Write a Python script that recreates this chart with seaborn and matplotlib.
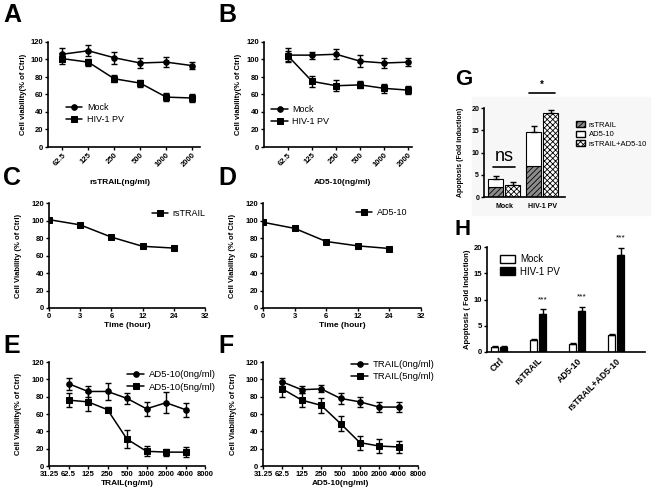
import numpy as np
import pandas as pd
import matplotlib
matplotlib.use("Agg")
import matplotlib.pyplot as plt
from matplotlib.patches import Patch, Rectangle
import seaborn as sns

# ---- data ----
# A / B: viability vs concentration (categorical axis)
conc_labels = ['62.5', '125', '250', '500', '1000', '2000']
a_mock = [106, 110, 102, 96, 97, 93]
a_mock_err = [7, 6, 7, 6, 6, 4]
a_hiv = [101, 97, 78, 73, 57, 56]
a_hiv_err = [6, 4, 4, 4, 5, 5]
b_mock = [105, 105, 106, 98, 96, 97]
b_mock_err = [8, 4, 6, 7, 6, 5]
b_hiv = [104, 75, 70, 71, 67, 65]
b_hiv_err = [6, 6, 6, 4, 5, 5]

# C / D: viability over time
time_ticks = ['0', '3', '6', '12', '24', '32']
times = ['0', '3', '6', '12', '24']
c_rstrail = [101, 95, 81, 70.5, 68.5]
d_ad510 = [98, 91, 76, 71, 68]

# E / F: viability vs dose (log2 axis)
dose_ticks = [31.25, 62.5, 125, 250, 500, 1000, 2000, 4000, 8000]
doses = [62.5, 125, 250, 500, 1000, 2000, 4000]
e_0 = [95, 86, 86, 78, 66, 73, 65]
e_0_err = [7, 6, 10, 6, 8, 12, 8]
e_5 = [76, 74, 65, 31, 17, 16, 16]
e_5_err = [8, 11, 3, 10, 6, 4, 6]
f_0 = [97, 88, 89, 78, 74, 68, 68]
f_0_err = [5, 4, 4, 6, 6, 6, 6]
f_5 = [89, 76, 70, 49, 27, 23, 22]
f_5_err = [9, 8, 9, 9, 8, 8, 7]

# G: stacked apoptosis bars
g_groups = ['Mock', 'HIV-1 PV']
g_rstrail = [2.2, 7.0]
g_ad510 = [1.8, 7.7]  # stacked on rsTRAIL
g_ad510_err = [0.8, 1.2]
g_combo = [2.7, 18.8]
g_combo_err = [0.6, 0.7]

# H: grouped apoptosis bars
h_cats = ['Ctrl', 'rsTRAIL', 'AD5-10', 'rsTRAIL+AD5-10']
h_mock = [1.0, 2.3, 1.5, 3.3]
h_mock_err = [0.2, 0.2, 0.2, 0.2]
h_hiv = [0.9, 7.3, 7.8, 18.4]
h_hiv_err = [0.2, 0.8, 0.8, 1.5]

sns.set_style('ticks')
plt.rcParams['font.family'] = ['Liberation Sans', 'DejaVu Sans']
plt.rcParams['font.weight'] = 'bold'
plt.rcParams['text.color'] = 'black'
plt.rcParams['axes.labelcolor'] = 'black'
plt.rcParams['hatch.linewidth'] = 0.6

W, H = 662, 494
fig = plt.figure(figsize=(W / 100, H / 100), dpi=100)


def add_ax(x0, y0, x1, y1):
    # pixel box -> figure coords
    return fig.add_axes([x0 / W, 1 - y1 / H, (x1 - x0) / W, (y1 - y0) / H])


def series(ax, x, y, err, marker, label):
    sns.lineplot(x=x, y=y, ax=ax, color='black', marker=marker, markersize=4,
                 markeredgecolor='black', linewidth=1.1, label=label, legend=False)
    if err is not None:
        ax.errorbar(x, y, yerr=err, fmt='none', ecolor='black', elinewidth=1,
                    capsize=2.5, capthick=1)


def style(ax, ylabel, yl_x):
    sns.despine(ax=ax)
    for s in ['left', 'bottom']:
        ax.spines[s].set_linewidth(1.2)
        ax.spines[s].set_color('black')
    ax.tick_params(width=1, length=2.5, labelsize=5.5, pad=1, colors='black')
    ax.set_ylabel(ylabel, fontsize=5.5, fontweight='bold')
    ax.yaxis.set_label_coords(yl_x, 0.5)


def legend(ax, x, y, fs=6.5):
    ax.legend(loc='upper left', bbox_to_anchor=(x, y), frameon=False,
              prop={'size': fs, 'weight': 'normal'}, handlelength=1.8,
              handletextpad=0.5, labelspacing=0.35, borderpad=0, borderaxespad=0)


# ---- A ----
pos = list(range(len(conc_labels)))
ax = add_ax(48, 42, 200, 147)
series(ax, pos, a_mock, a_mock_err, 'o', 'Mock')
series(ax, pos, a_hiv, a_hiv_err, 's', 'HIV-1 PV')
ax.set_ylim(0, 120)
ax.set_yticks(range(0, 121, 20))
ax.set_xlim(-0.55, 5.3)
ax.set_xticks(pos, conc_labels, rotation=45, ha='right', rotation_mode='anchor')
style(ax, 'Cell viability(% of Ctrl)', -0.14)
ax.set_xlabel('rsTRAIL(ng/ml)', fontsize=6, fontweight='bold')
ax.xaxis.set_label_coords(0.47, -0.30)
legend(ax, 0.12, 0.42)

# ---- B ----
ax = add_ax(264, 42, 412, 147)
series(ax, pos, b_mock, b_mock_err, 'o', 'Mock')
series(ax, pos, b_hiv, b_hiv_err, 's', 'HIV-1 PV')
ax.set_ylim(0, 120)
ax.set_yticks(range(0, 121, 20))
ax.set_xlim(-1.0, 5.15)
ax.set_xticks(pos, conc_labels, rotation=45, ha='right', rotation_mode='anchor')
style(ax, 'Cell viability(% of Ctrl)', -0.15)
ax.set_xlabel('AD5-10(ng/ml)', fontsize=6, fontweight='bold')
ax.xaxis.set_label_coords(0.53, -0.30)
legend(ax, 0.05, 0.40)

# ---- C / D ----
tpos = [time_ticks.index(t) for t in times]
for box, vals, lab, lx, ly in [((49, 203, 205, 308), c_rstrail, 'rsTRAIL', 0.66, 0.94),
                               ((263, 203, 421, 308), d_ad510, 'AD5-10', 0.59, 0.95)]:
    ax = add_ax(*box)
    series(ax, tpos, vals, None, 's', lab)
    ax.set_ylim(0, 120)
    ax.set_yticks(range(0, 121, 20))
    ax.set_xlim(0, 5)
    ax.set_xticks(range(len(time_ticks)), time_ticks)
    style(ax, 'Cell Viability (% of Ctrl)', -0.17)
    ax.set_xlabel('Time (hour)', fontsize=6, fontweight='bold')
    ax.xaxis.set_label_coords(0.5, -0.13)
    legend(ax, lx, ly)

# ---- E / F ----
tick_labels = [f'{d:g}' for d in dose_ticks]
for box, y0, e0, y5, e5, names, xl, lx, ly in [
        ((49, 362, 205, 466), e_0, e_0_err, e_5, e_5_err,
         ['AD5-10(0ng/ml)', 'AD5-10(5ng/ml)'], 'TRAIL(ng/ml)', 0.5, 0.92),
        ((263, 362, 418, 466), f_0, f_0_err, f_5, f_5_err,
         ['TRAIL(0ng/ml)', 'TRAIL(5ng/ml)'], 'AD5-10(ng/ml)', 0.57, 1.02)]:
    ax = add_ax(*box)
    ax.set_xscale('log', base=2)
    series(ax, doses, y0, e0, 'o', names[0])
    series(ax, doses, y5, e5, 's', names[1])
    ax.set_ylim(0, 120)
    ax.set_yticks(range(0, 121, 20))
    ax.set_xlim(dose_ticks[0], dose_ticks[-1])
    ax.set_xticks(dose_ticks, tick_labels)
    ax.minorticks_off()
    style(ax, 'Cell Viability(% of Ctrl)', -0.17)
    ax.set_xlabel(xl, fontsize=6, fontweight='bold')
    ax.xaxis.set_label_coords(0.5, -0.13)
    legend(ax, lx, ly, fs=6.8)

# ---- G ----
fig.patches.append(Rectangle((472 / W, 1 - 215 / H), 178 / W, 118 / H,
                             transform=fig.transFigure, color='#f7f7f7', zorder=-5))
ax = add_ax(484, 108, 565, 197)
ax.patch.set_alpha(0)
gx = np.arange(len(g_groups))
off, bw = 0.22, 0.4
ax.bar(gx - off, g_rstrail, bw, color='#8c8c8c', edgecolor='black', hatch='//////', linewidth=0.8)
ax.bar(gx - off, g_ad510, bw, bottom=g_rstrail, color='white', edgecolor='black', linewidth=0.8)
ax.bar(gx + off, g_combo, bw, color='white', edgecolor='black', hatch='xxxxxx', linewidth=0.8)
tops = np.array(g_rstrail) + np.array(g_ad510)
ax.errorbar(gx - off, tops, yerr=[np.zeros(2), g_ad510_err], fmt='none', ecolor='black',
            elinewidth=1, capsize=2.5, capthick=1)
ax.errorbar(gx + off, g_combo, yerr=[np.zeros(2), g_combo_err], fmt='none', ecolor='black',
            elinewidth=1, capsize=2.5, capthick=1)
ax.plot([-0.29, 0.29], [6.7, 6.7], color='black', lw=1.2)
ax.text(0, 7.3, 'ns', ha='center', va='bottom', fontsize=13, fontweight='normal')
ax.plot([0.66, 1.34], [23.4, 23.4], color='black', lw=1.2, clip_on=False)
ax.text(1, 24.0, '*', ha='center', va='bottom', fontsize=7)
ax.set_ylim(0, 20)
ax.set_yticks(range(0, 21, 5))
ax.set_xlim(-0.53, 1.6)
ax.set_xticks(gx, g_groups)
style(ax, 'Apoptosis (Fold induction)', -0.25)
ax.tick_params(axis='x', length=0, pad=4)
ax.tick_params(labelsize=5)
ax.yaxis.label.set_fontsize(5)
ax.legend(handles=[Patch(facecolor='#8c8c8c', edgecolor='black', hatch='//////', label='rsTRAIL'),
                   Patch(facecolor='white', edgecolor='black', label='AD5-10'),
                   Patch(facecolor='white', edgecolor='black', hatch='xxxxxx', label='rsTRAIL+AD5-10')],
          loc='upper left', bbox_to_anchor=(1.13, 0.85), frameon=False,
          prop={'size': 5.5, 'weight': 'normal'}, handlelength=1.3, handleheight=0.8,
          handletextpad=0.4, labelspacing=0.25, borderpad=0, borderaxespad=0)

# ---- H ----
h_df = pd.DataFrame({
    'cat': h_cats * 2,
    'group': ['Mock'] * len(h_cats) + ['HIV-1 PV'] * len(h_cats),
    'value': h_mock + h_hiv,
})
ax = add_ax(487, 247, 645, 352)
sns.barplot(data=h_df, x='cat', y='value', hue='group', hue_order=['Mock', 'HIV-1 PV'],
            palette={'Mock': 'white', 'HIV-1 PV': 'black'}, edgecolor='black', linewidth=0.9,
            width=0.46, gap=0.2, errorbar=None, legend=False, ax=ax)
bars = sorted(ax.patches, key=lambda p: p.get_x())
errs = np.ravel(np.column_stack([h_mock_err, h_hiv_err]))
cx = np.array([p.get_x() + p.get_width() / 2 for p in bars])
hy = np.array([p.get_height() for p in bars])
ax.errorbar(cx, hy, yerr=[np.zeros(len(errs)), errs], fmt='none', ecolor='black',
            elinewidth=1, capsize=2, capthick=1)
for i in range(1, len(h_cats)):
    j = 2 * i + 1
    ax.text(cx[j], hy[j] + errs[j] + 1.9, '***', ha='center', va='center',
            fontsize=6, fontweight='normal', clip_on=False)
ax.set_ylim(0, 20)
ax.set_yticks(range(0, 21, 5))
ax.set_xlim(-0.31, 3.74)
ax.set_xticks(range(len(h_cats)), h_cats, rotation=45, ha='right', rotation_mode='anchor')
style(ax, 'Apoptosis ( Fold Induction)', -0.1)
ax.set_xlabel('')
ax.tick_params(axis='x', length=0, pad=3, labelsize=6.3)
ax.legend(handles=[Patch(facecolor='white', edgecolor='black', label='Mock'),
                   Patch(facecolor='black', edgecolor='black', label='HIV-1 PV')],
          loc='upper left', bbox_to_anchor=(0.08, 0.93), frameon=False,
          prop={'size': 7, 'weight': 'normal'}, handlelength=1.6, handleheight=0.9,
          handletextpad=0.5, labelspacing=0.25, borderpad=0, borderaxespad=0)

# ---- panel letters ----
for letter, x, y, fs in [('A', 3, 3, 18), ('B', 218, 3, 18), ('C', 3, 166, 18), ('D', 218, 166, 18),
                         ('E', 3, 334, 18), ('F', 218, 334, 18), ('G', 455, 69, 16), ('H', 455, 219, 16)]:
    fig.text(x / W, 1 - y / H, letter, fontsize=fs, fontweight='bold', va='top', ha='left')

fig.savefig('out.png', dpi=100)
